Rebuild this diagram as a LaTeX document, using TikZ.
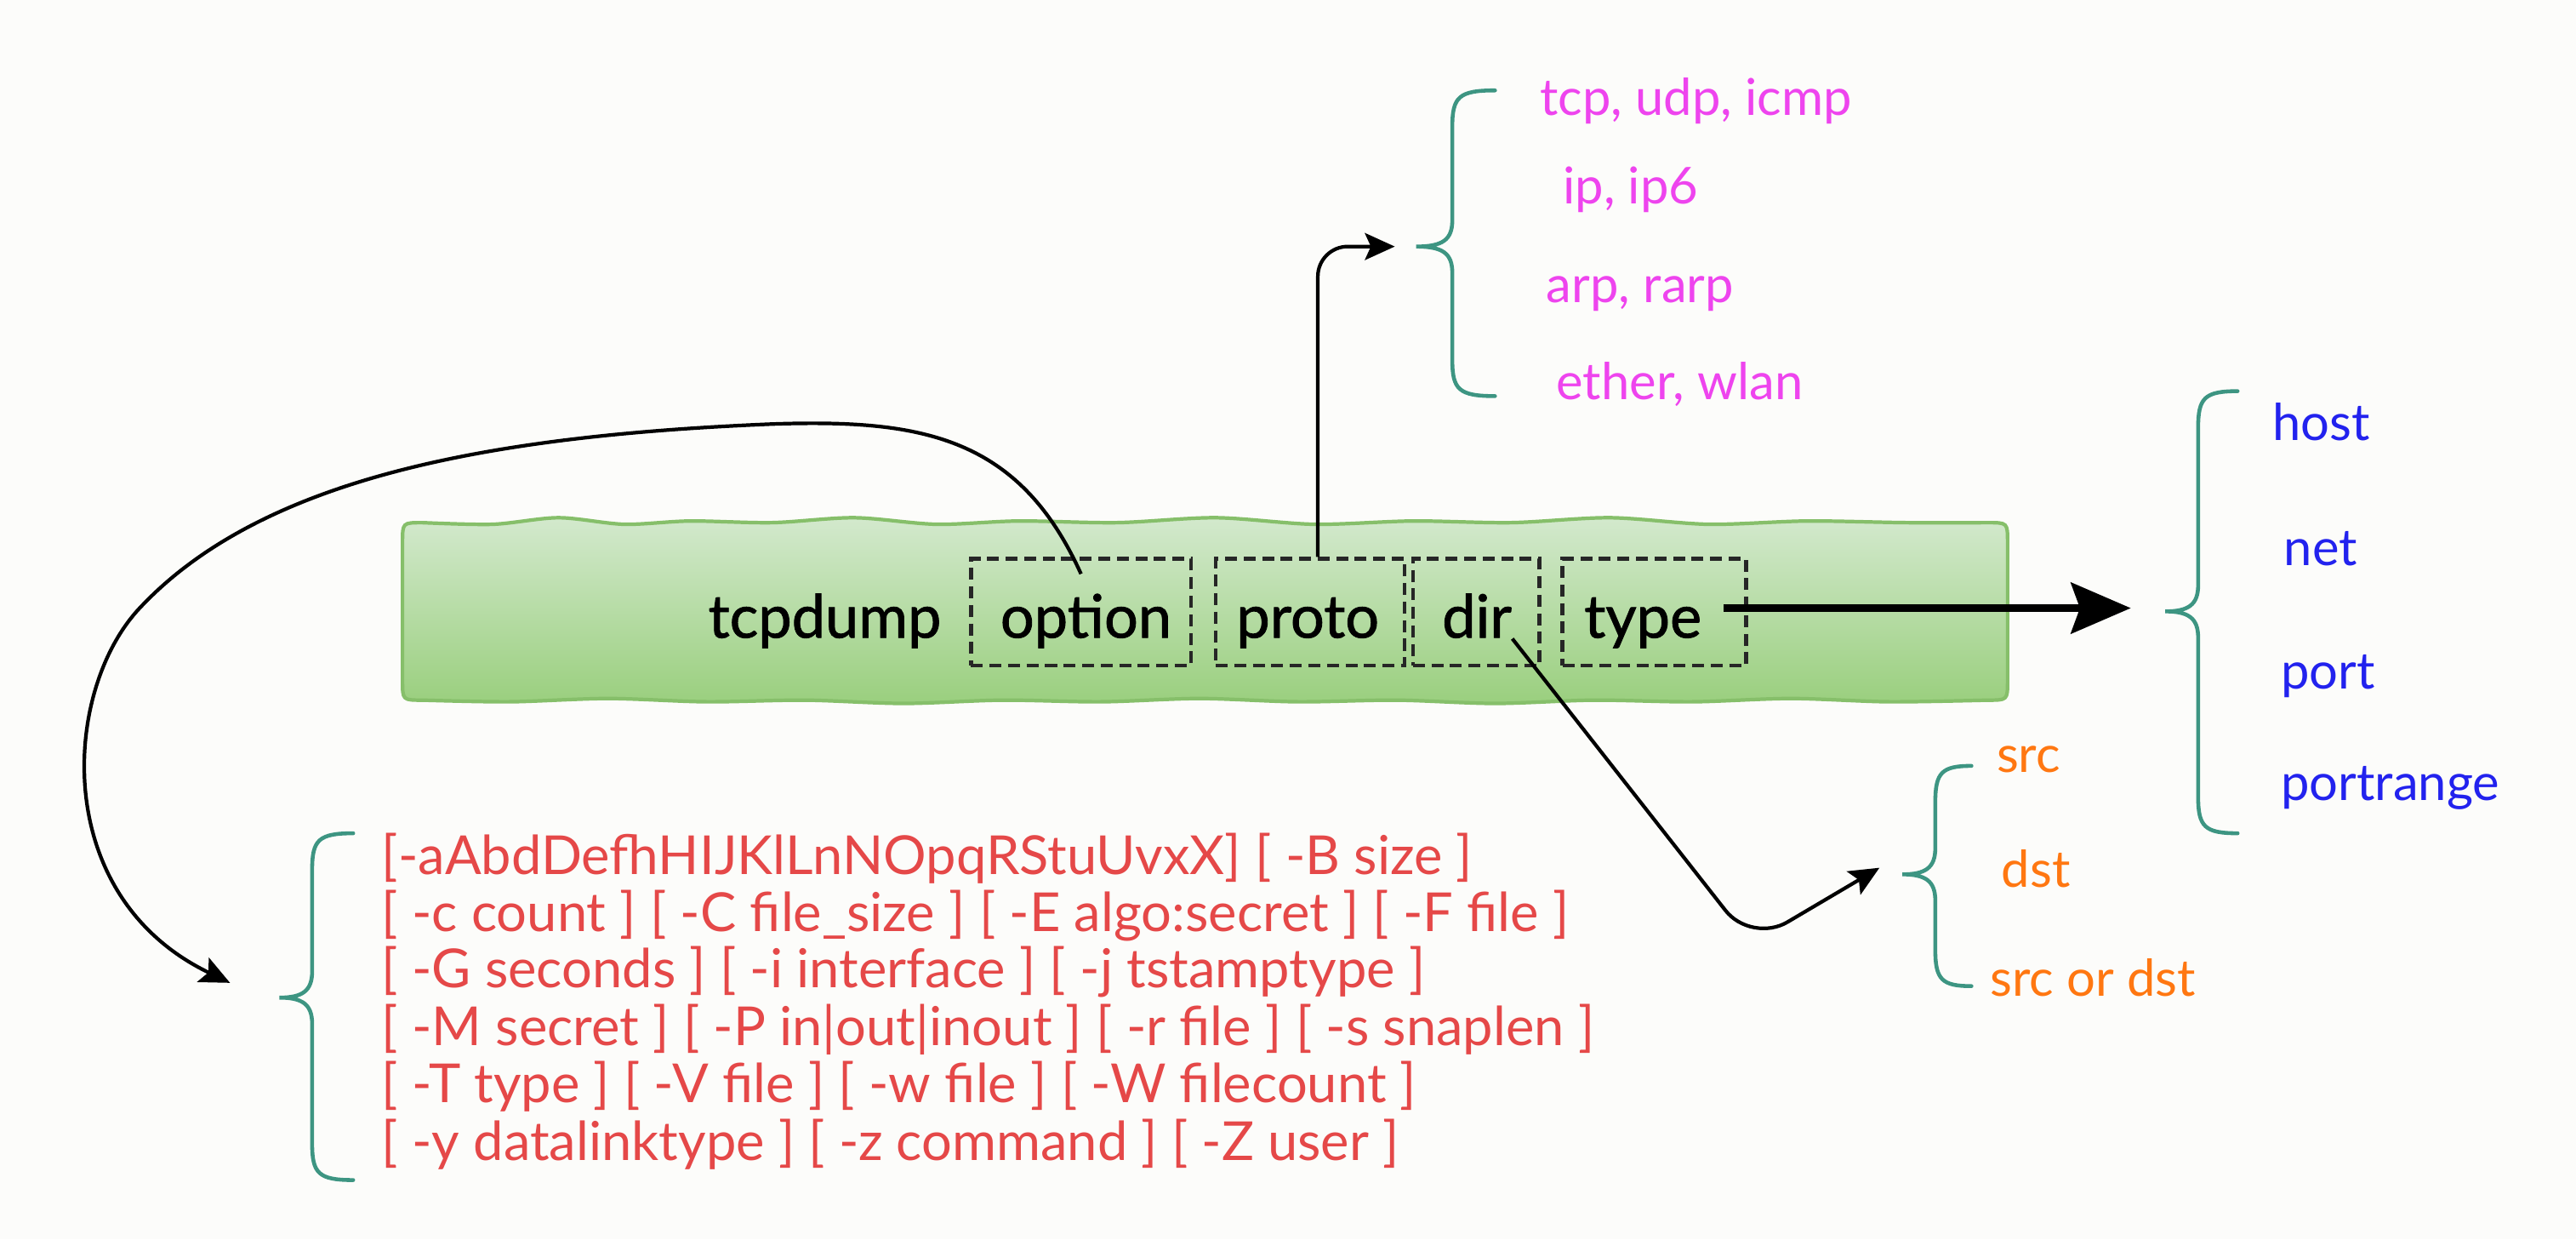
\documentclass[tikz,border=0pt]{standalone}
\usepackage{fontspec}
\setmainfont{Lato}
\newfontfamily\kwfont[FakeBold=1.2]{Lato}
\usetikzlibrary{arrows.meta}
\definecolor{bg}{HTML}{FCFCFA}
\definecolor{gtop}{HTML}{D3E9CD}
\definecolor{gbot}{HTML}{9ACF7E}
\definecolor{gborder}{HTML}{86BF6A}
\definecolor{brc}{HTML}{3D9582}
\definecolor{mag}{HTML}{EE44EE}
\definecolor{blu}{HTML}{2222EE}
\definecolor{org}{HTML}{FF7711}
\definecolor{redt}{HTML}{E54848}
\tikzset{
  kw/.style={font=\kwfont\fontsize{20}{24}\selectfont, text=black, inner sep=0pt},
  dbox/.style={draw=black!85, line width=1.3pt, dash pattern=on 4pt off 2.2pt, minimum height=1.255cm, inner sep=0pt},
  conn/.style={draw=black, line width=1.2pt},
  brace/.style={draw=brc, line width=1.3pt, line cap=round},
  lab/.style={anchor=base west, inner sep=0pt, font=\fontsize{17}{20}\selectfont},
  optline/.style={anchor=base west, inner sep=0pt, text=redt, font=\fontsize{18}{21}\selectfont},
}
\newcommand{\curlybr}[6]{%
  \draw[brace] (#3,#4) .. controls ({#2+4},#4) and (#2,{#4+4}) .. (#2,{#4+22})
    -- (#2,{#5-16}) .. controls (#2,{#5-4}) and ({#2-6},#5) .. (#1,#5)
    .. controls ({#2-6},#5) and (#2,{#5+4}) .. (#2,{#5+16})
    -- (#2,{#6-22}) .. controls (#2,{#6-4}) and ({#2+4},#6) .. (#3,#6);
}
\begin{document}
\begin{tikzpicture}[x=0.019311cm, y=-0.019311cm]
\useasboundingbox (0,0) rectangle (1568,754);
\fill[bg] (0,0) rectangle (1568,754);

% green wavy bar
\path[top color=gtop, bottom color=gbot, draw=gborder, line width=1.2pt]
  (245,330) .. controls (245,318) .. (257,318)
  -- plot[smooth] coordinates {(257,318) (300,319) (340,315) (380,319) (420,317) (470,318) (520,315) (570,319) (620,317) (680,318) (740,315) (800,319) (860,317) (920,318) (980,315) (1040,319) (1100,317) (1160,318) (1210,318)}
  .. controls (1222,318) .. (1222,330) -- (1222,414)
  .. controls (1222,426) .. (1210,426)
  -- plot[smooth] coordinates {(1210,426) (1150,427) (1090,425) (1030,427) (970,426) (910,428) (850,426) (790,427) (730,425) (670,427) (610,426) (550,428) (490,426) (430,427) (370,425) (310,427) (257,426)}
  .. controls (245,426) .. (245,414) -- cycle;

\node[kw, anchor=base] (tcp) at (502,388) {tcpdump};
\node[dbox, minimum width=2.588cm] (opt) at (658,372.5) {};
\node[kw, anchor=base] (optt) at (661,388) {option};
\node[dbox, minimum width=2.221cm] (pro) at (797.5,372.5) {};
\node[kw, anchor=base] (prot) at (796,388) {proto};
\node[dbox, minimum width=1.487cm] (dir) at (898.5,372.5) {};
\node[kw, anchor=base] (dirt) at (899,388) {dir};
\node[dbox, minimum width=2.163cm] (typ) at (1007,372.5) {};
\node[kw, anchor=base] (typt) at (1000,388) {type};

% braces
\curlybr{862}{884}{910}{55}{150}{241}
\curlybr{1318}{1338}{1362}{238}{372}{507}
\curlybr{1158}{1178}{1200}{466}{532}{600}
\curlybr{170}{190}{215}{507}{607}{718}

% proto values
\node[lab, text=mag] (p1) at (937,70) {tcp, udp, icmp};
\node[lab, text=mag] (p2) at (951,124) {ip, ip6};
\node[lab, text=mag] (p3) at (941,184) {arp, rarp};
\node[lab, text=mag] (p4) at (947,243) {ether, wlan};
% type values
\node[lab, text=blu] (t1) at (1383,268) {host};
\node[lab, text=blu] (t2) at (1390,344) {net};
\node[lab, text=blu] (t3) at (1388,419) {port};
\node[lab, text=blu] (t4) at (1388,487) {portrange};
% dir values
\node[lab, text=org] (d1) at (1215,470) {src};
\node[lab, text=org] (d2) at (1218,540) {dst};
\node[lab, text=org] (d3) at (1211,606) {src or dst};
% option values
\node[optline] (o1) at (232,532) {[-aAbdDefhHIJKlLnNOpqRStuUvxX] [ -B size ]};
\node[optline] (o2) at (232,567) {[ -c count ] [ -C file\_size ] [ -E algo:secret ] [ -F file ]};
\node[optline] (o3) at (232,601) {[ -G seconds ] [ -i interface ] [ -j tstamptype ]};
\node[optline] (o4) at (232,636) {[ -M secret ] [ -P in|out|inout ] [ -r file ] [ -s snaplen ]};
\node[optline] (o5) at (232,671) {[ -T type ] [ -V file ] [ -w file ] [ -W filecount ]};
\node[optline] (o6) at (232,706) {[ -y datalinktype ] [ -z command ] [ -Z user ]};

% connectors
\coordinate (harr) at (1297,370);
\coordinate (parr) at (849,150);
\coordinate (darr) at (1144,528);
\coordinate (dbend) at (1066,574);
\coordinate (oarr) at (140,598);
\draw[conn, line width=2.4pt, -{Stealth[length=20pt,width=17pt,inset=3pt]}] ([xshift=0.25cm]typt.east |- harr) -- (harr);
\draw[conn, rounded corners=10pt, -{Stealth[length=10pt,width=9pt,inset=2pt]}] ([xshift=0.09cm]pro.north) |- (parr);
\draw[conn, rounded corners=14pt, -{Stealth[length=10pt,width=9pt,inset=2pt]}] (dirt.south east) -- (dbend) -- (darr);
\draw[conn, -{Stealth[length=10pt,width=9pt,inset=2pt]}] ([yshift=-0.2cm]opt.north)
  .. controls (620,265) and (560,255) .. (470,258)
  .. controls (300,265) and (160,290) .. (85,370)
  .. controls (38,420) and (30,545) .. (oarr);
\end{tikzpicture}
\end{document}
